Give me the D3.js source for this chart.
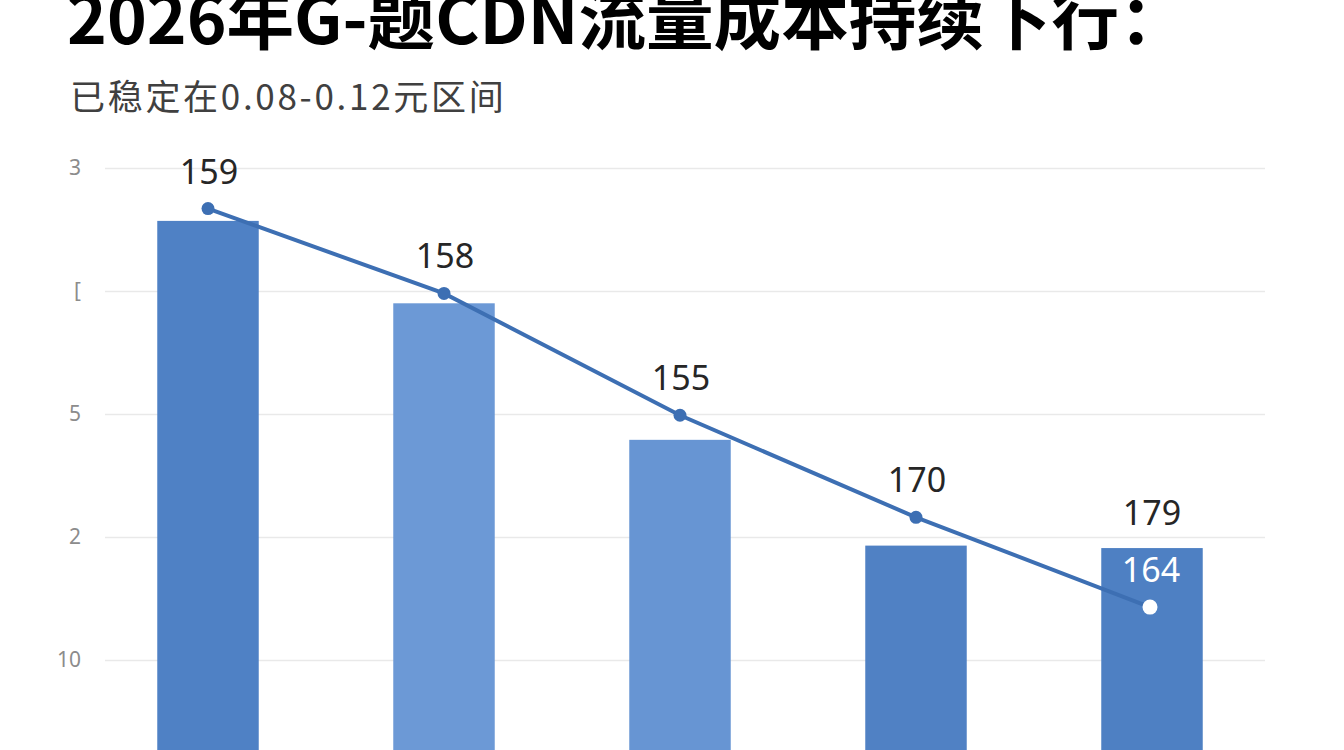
<!DOCTYPE html>
<html lang="zh">
	<head>
		<meta charset="utf-8">
		<title>CDN流量成本</title>
		<script src="https://d3js.org/d3.v7.min.js"></script>
		<style type="text/css">
			html, body { margin: 0; padding: 0; background: #fff; overflow: hidden; }
			svg { display: block; }
		</style>
	</head>
	<body>
		<script type="text/javascript">
			// data
			let categories = ["1", "2", "3", "4", "5"];
			let barValues = [4.57, 3.90, 2.79, 1.93, 1.91];
			let lineValues = [4.67, 3.98, 2.99, 2.16, 1.43];
			let lineLabels = ["159", "158", "155", "170", "164"];
			let barLabels = ["", "", "", "", "179"];
			let tickValues = [1, 2, 3, 4, 5];
			let tickLabels = ["10", "2", "5", "[", "3"];

			let titleText = "2026年G-题CDN流量成本持续下行：";
			let subtitleText = "已稳定在0.08-0.12元区间";

			let barColors = ["#4f81c5", "#6c99d6", "#6795d3", "#5081c4", "#4e80c3"];
			let lineColor = "#3d6fb3";

			//Width and height
			let w = 1344;
			let h = 750;

			let svg = d3.select("body")
						.append("svg")
						.attr("width", w)
						.attr("height", h);

			//Scales
			let xScale = d3.scaleBand()
						   .domain(categories)
						   .range([90, 1270])
						   .paddingInner(0.57)
						   .paddingOuter(0.285);
			let yScale = d3.scaleLinear()
						   .domain([0, 5])
						   .range([783, 168]);

			//Gridlines + tick labels from a left axis
			let yAxis = d3.axisLeft(yScale)
						  .tickValues(tickValues)
						  .tickFormat(function(d, i) { return tickLabels[i]; })
						  .tickSize(-1160)
						  .tickPadding(24);
			let axisG = svg.append("g")
				.attr("class", "y axis")
				.attr("transform", "translate(105,0)")
				.call(yAxis);
			axisG.select(".domain").remove();
			axisG.selectAll("line")
				.attr("x1", 0)
				.attr("x2", 1160)
				.attr("stroke", "#e9e9e9")
				.attr("stroke-width", 1.5);
			axisG.selectAll("text")
				.attr("fill", "#8c8c8c")
				.style("font-family", "'Noto Sans', 'DejaVu Sans', sans-serif")
				.style("font-size", "21px");

			//Bars
			svg.append("g")
				.selectAll("rect")
				.data(barValues)
				.enter()
				.append("rect")
				.attr("x", function(d, i) { return xScale(categories[i]); })
				.attr("y", function(d) { return yScale(d); })
				.attr("width", xScale.bandwidth())
				.attr("height", function(d) { return yScale(0) - yScale(d); })
				.attr("fill", function(d, i) { return barColors[i]; });

			//Bar labels
			svg.append("g")
				.selectAll("text")
				.data(barLabels)
				.enter()
				.append("text")
				.attr("x", function(d, i) { return xScale(categories[i]) + xScale.bandwidth() / 2; })
				.attr("y", function(d, i) { return yScale(barValues[i]) - 23; })
				.attr("text-anchor", "middle")
				.attr("fill", "#262626")
				.style("font-family", "'Noto Sans', 'Open Sans', sans-serif")
				.style("font-size", "34px")
				.text(function(d) { return d; });

			//Line
			let cx = function(d, i) { return xScale(categories[i]) + xScale.bandwidth() / 2 - (i === 4 ? 2 : 0); };
			let line = d3.line()
						 .x(function(d, i) { return cx(d, i); })
						 .y(function(d) { return yScale(d); });
			svg.append("path")
				.datum(lineValues)
				.attr("d", line)
				.attr("fill", "none")
				.attr("stroke", lineColor)
				.attr("stroke-width", 4)
				.attr("stroke-linecap", "round");

			// a point sitting inside its bar is drawn white
			let inside = function(i) { return lineValues[i] < barValues[i]; };

			svg.append("g")
				.selectAll("circle")
				.data(lineValues)
				.enter()
				.append("circle")
				.attr("cx", function(d, i) { return cx(d, i); })
				.attr("cy", function(d) { return yScale(d); })
				.attr("r", function(d, i) { return inside(i) ? 7.5 : 6.5; })
				.attr("fill", function(d, i) { return inside(i) ? "#ffffff" : lineColor; });

			svg.append("g")
				.selectAll("text")
				.data(lineLabels)
				.enter()
				.append("text")
				.attr("x", function(d, i) { return cx(lineValues[i], i) + 1; })
				.attr("y", function(d, i) { return yScale(lineValues[i]) - 25; })
				.attr("text-anchor", "middle")
				.attr("fill", function(d, i) { return inside(i) ? "#ffffff" : "#262626"; })
				.style("font-family", "'Noto Sans', 'Open Sans', sans-serif")
				.style("font-size", "34px")
				.text(function(d) { return d; });

			//Title and subtitle (title runs off the top edge, as in the source)
			let title = svg.append("text")
				.attr("x", 67)
				.attr("y", 44)
				.attr("fill", "#000")
				.style("font-family", "'Noto Sans CJK SC', sans-serif")
				.style("font-weight", 700)
				.style("font-size", "60px")
				.text(titleText);
			//fit the title to the width it has in the source (incl. the colon's advance)
			let tLen = title.node().getComputedTextLength();
			title.style("font-size", (60 * 1120 / tLen) + "px");

			svg.append("text")
				.attr("x", 70)
				.attr("y", 110)
				.attr("fill", "#404040")
				.style("font-family", "'Noto Sans CJK SC', sans-serif")
				.style("font-size", "35px")
				.style("letter-spacing", "2.7px")
				.text(subtitleText);
		</script>
	</body>
</html>
